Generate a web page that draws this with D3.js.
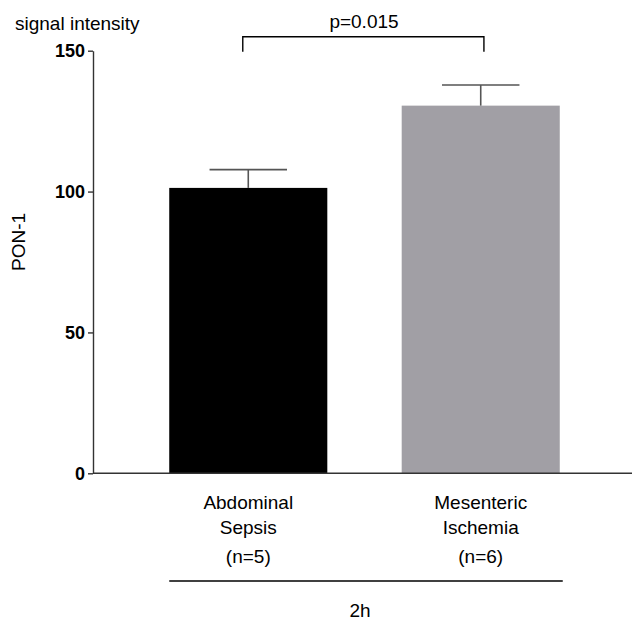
<!DOCTYPE html>
<html>
<head>
<meta charset="utf-8">
<script src="https://cdn.jsdelivr.net/npm/d3@7"></script>
<style>
  html, body { margin: 0; padding: 0; background: #fff; }
  svg { display: block; font-family: "Liberation Sans", Arial, sans-serif; }
</style>
</head>
<body>
<svg id="chart" width="632" height="622"></svg>
<script>
const categories = ["Abdominal Sepsis", "Mesenteric Ischemia"];
const labelLines = [["Abdominal", "Sepsis"], ["Mesenteric", "Ischemia"]];
const nLabels = ["(n=5)", "(n=6)"];
const means = [101.3, 130.5];
const errors = [6.5, 7.3];
const barColors = ["#000000", "#a19fa5"];
const yTicks = [0, 50, 100, 150];
const pLabel = "p=0.015";
const groupLabel = "2h";
const yLabel = "PON-1";
const unitLabel = "signal intensity";

const svg = d3.select("#chart");

const y = d3.scaleLinear().domain([0, 150]).range([473.3, 50.7]);
const x = d3.scaleBand().domain(categories).range([93, 636])
  .paddingInner(0.32).paddingOuter(0.328);

// bars
svg.selectAll("rect.bar").data(categories).join("rect")
  .attr("class", "bar")
  .attr("x", d => x(d))
  .attr("width", x.bandwidth())
  .attr("y", (d, i) => y(means[i]))
  .attr("height", (d, i) => y(0) - y(means[i]))
  .attr("fill", (d, i) => barColors[i]);

// error bars (upper only)
const capW = x.bandwidth() * 0.49;
const eb = svg.selectAll("g.err").data(categories).join("g").attr("class", "err")
  .attr("stroke", "#555").attr("stroke-width", 1.6);
eb.append("line")
  .attr("x1", d => x(d) + x.bandwidth() / 2)
  .attr("x2", d => x(d) + x.bandwidth() / 2)
  .attr("y1", (d, i) => y(means[i]))
  .attr("y2", (d, i) => y(means[i] + errors[i]));
eb.append("line")
  .attr("x1", d => x(d) + x.bandwidth() / 2 - capW / 2)
  .attr("x2", d => x(d) + x.bandwidth() / 2 + capW / 2)
  .attr("y1", (d, i) => y(means[i] + errors[i]))
  .attr("y2", (d, i) => y(means[i] + errors[i]));

// y axis
const yAxis = d3.axisLeft(y).tickValues(yTicks).tickSize(5).tickPadding(3).tickSizeOuter(0);
const gy = svg.append("g").attr("transform", "translate(93,0)").call(yAxis);
gy.select(".domain").attr("stroke", "#333").attr("stroke-width", 1.4);
gy.selectAll(".tick line").attr("stroke", "#333").attr("stroke-width", 1.4);
gy.selectAll(".tick text").attr("font-size", 18).attr("font-weight", "bold")
  .attr("fill", "#000").attr("font-family", "Liberation Sans, Arial, sans-serif");

// x axis baseline
svg.append("line")
  .attr("x1", 93).attr("x2", 632)
  .attr("y1", y(0)).attr("y2", y(0))
  .attr("stroke", "#333").attr("stroke-width", 1.4);

// category labels
const cl = svg.selectAll("g.cat").data(categories).join("g").attr("class", "cat");
cl.each(function(d, i) {
  const g = d3.select(this);
  const cx = x(d) + x.bandwidth() / 2;
  labelLines[i].forEach((t, k) => {
    g.append("text").attr("x", cx).attr("y", 509 + k * 25)
      .attr("text-anchor", "middle").attr("font-size", 19).text(t);
  });
  g.append("text").attr("x", cx).attr("y", 563)
    .attr("text-anchor", "middle").attr("font-size", 19).text(nLabels[i]);
});

// group line and label
const gx0 = x(categories[0]);
const gx1 = x(categories[1]) + x.bandwidth();
svg.append("line").attr("x1", gx0).attr("x2", gx1 + 3)
  .attr("y1", 581).attr("y2", 581).attr("stroke", "#000").attr("stroke-width", 1.5);
svg.append("text").attr("x", (gx0 + gx1) / 2 - 4.5).attr("y", 617)
  .attr("text-anchor", "middle").attr("font-size", 19).text(groupLabel);

// significance bracket
const bx0 = x(categories[0]) + x.bandwidth() / 2 - 5.5;
const bx1 = x(categories[1]) + x.bandwidth() / 2 + 3.2;
svg.append("path")
  .attr("d", `M${bx0},51.7 V36.7 H${bx1} V51.7`)
  .attr("fill", "none").attr("stroke", "#000").attr("stroke-width", 1.4);
svg.append("text").attr("x", 364).attr("y", 28)
  .attr("text-anchor", "middle").attr("font-size", 19).text(pLabel);

// unit label and y label
svg.append("text").attr("x", 15).attr("y", 30).attr("font-size", 19).text(unitLabel);
svg.append("text").attr("transform", "translate(25,242) rotate(-90)")
  .attr("text-anchor", "middle").attr("font-size", 19).text(yLabel);
</script>
</body>
</html>
